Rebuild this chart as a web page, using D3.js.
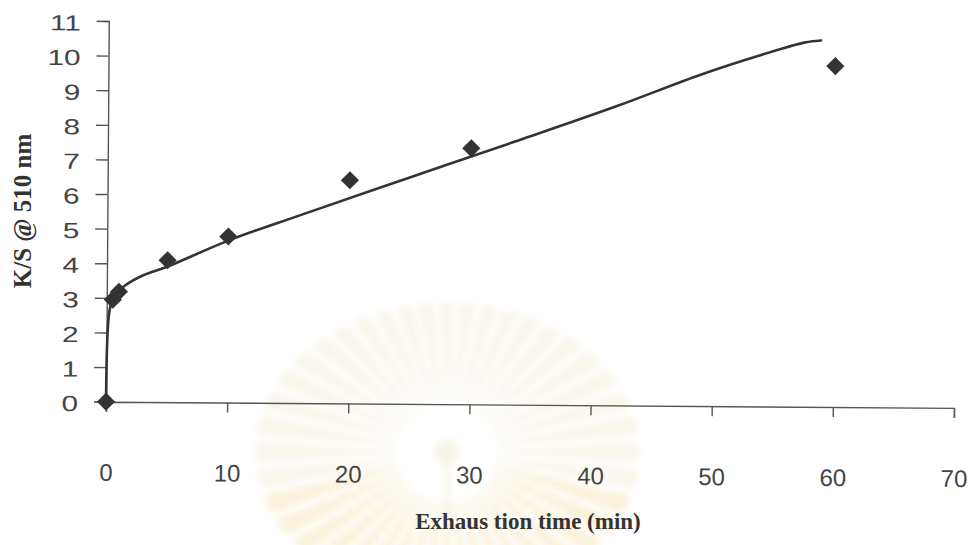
<!DOCTYPE html>
<html>
<head>
<meta charset="utf-8">
<script src="https://cdn.jsdelivr.net/npm/d3@7"></script>
<style>
  html, body { margin: 0; padding: 0; background: #fff; }
  svg { display: block; }
</style>
</head>
<body>
<svg id="chart" width="970" height="545"></svg>
<script>
// Measured K/S values at each exhaustion time
const exhaustionTime = [0, 0.5, 1, 5, 10, 20, 30, 60];
const ksValue = [0, 2.95, 3.18, 4.1, 4.8, 6.45, 7.4, 9.85];

// Fitted curve through the measurements
const fitTime = [0, 0.02, 0.06, 0.12, 0.2, 0.35, 0.6, 1.0, 1.5, 3, 5, 10, 16, 25, 34, 42, 49, 55, 57.5, 58.8];
const fitKS   = [0, 1.0, 1.7, 2.2, 2.55, 2.82, 3.03, 3.2, 3.36, 3.66, 3.92, 4.68, 5.44, 6.55, 7.65, 8.65, 9.59, 10.28, 10.53, 10.59];

// Axis ticks
const xTicks = [0, 10, 20, 30, 40, 50, 60, 70];
const yTicks = [0, 1, 2, 3, 4, 5, 6, 7, 8, 9, 10, 11];

const svg = d3.select("#chart");

const x = d3.scaleLinear().domain([0, 70]).range([106, 954]);
const y = d3.scaleLinear().domain([0, 11]).range([401.7, 21]);

// --- faint emblem in the background ---
const defs = svg.append("defs");
defs.append("filter").attr("id", "soft")
  .append("feGaussianBlur").attr("stdDeviation", 3);

const emblem = svg.append("g")
  .attr("transform", "translate(447,452)")
  .attr("filter", "url(#soft)");
const rayCount = 44;
const rays = d3.range(rayCount);
emblem.selectAll("path.ray").data(rays).join("path")
  .attr("class", "ray")
  .attr("d", i => {
    const a = (i / rayCount) * 2 * Math.PI;
    const w = (Math.PI / rayCount) * 0.75;
    const r0 = 50, rx = 190, ry = 148;
    const p = (ang, rr) => {
      const ex = Math.cos(ang), ey = Math.sin(ang);
      const k = rr === r0 ? r0 : 1 / Math.sqrt((ex * ex) / (rx * rx) + (ey * ey) / (ry * ry));
      return [ex * k, ey * k];
    };
    const a1 = p(a - w * 0.4, r0), a2 = p(a + w * 0.4, r0);
    const b1 = p(a - w, 1), b2 = p(a + w, 1), tip = p(a, 1);
    return `M${a1}L${b1}Q${tip[0] * 1.03},${tip[1] * 1.03} ${b2}L${a2}Z`;
  })
  .attr("fill", i => {
    const a = (i / rayCount) * 2 * Math.PI;
    return Math.sin(a) > 0.2 ? "#f1dea0" : "#f1e9cf";
  })
  .attr("opacity", 0.38);
emblem.append("circle").attr("cx", 0).attr("cy", 0).attr("r", 12)
  .attr("fill", "#eee4c8").attr("opacity", 0.45);
emblem.append("rect").attr("x", -3).attr("y", 10).attr("width", 6).attr("height", 70)
  .attr("fill", "#eee4c8").attr("opacity", 0.35);

// --- chart body (slightly tilted like the printed page) ---
const plot = svg.append("g").attr("transform", "rotate(0.42,106,402)");

const axisColor = "#555";
const tickColor = "#444";

// x axis
const xAxis = plot.append("g")
  .attr("transform", `translate(0,${y(0)})`)
  .call(d3.axisBottom(x).tickValues(xTicks).tickSize(10).tickPadding(52).tickSizeOuter(10));
xAxis.select(".domain").attr("stroke", axisColor).attr("stroke-width", 1.4);
xAxis.selectAll(".tick line").attr("stroke", axisColor).attr("stroke-width", 1.4);
xAxis.selectAll(".tick text")
  .attr("fill", tickColor)
  .style("font-family", "'Liberation Sans', Arial, sans-serif")
  .style("font-size", "24px");

// y axis
const yAxis = plot.append("g")
  .attr("transform", `translate(${x(0)},0)`)
  .call(d3.axisLeft(y).tickValues(yTicks).tickSize(12).tickPadding(16).tickSizeOuter(12));
yAxis.select(".domain").attr("stroke", axisColor).attr("stroke-width", 1.4);
yAxis.selectAll(".tick line").attr("stroke", axisColor).attr("stroke-width", 1.4);
yAxis.selectAll(".tick text")
  .attr("fill", tickColor)
  .attr("transform", "translate(-28,0) scale(1.35,1) translate(28,0)")
  .attr("dy", "0.42em")
  .style("font-family", "'Liberation Sans', Arial, sans-serif")
  .style("font-size", "22px");

// fitted curve
const fitPoints = fitTime.map((t, i) => [t, fitKS[i]]);
plot.append("path")
  .datum(fitPoints)
  .attr("fill", "none")
  .attr("stroke", "#333")
  .attr("stroke-width", 2.6)
  .attr("stroke-linecap", "round")
  .attr("stroke-linejoin", "round")
  .attr("d", d3.line().x(d => x(d[0])).y(d => y(d[1])).curve(d3.curveCatmullRom.alpha(0.5)));

// measured points as diamonds
const points = exhaustionTime.map((t, i) => ({ t, v: ksValue[i] }));
const diamond = d3.symbol().type(d3.symbolSquare).size(165);
plot.selectAll("path.pt").data(points).join("path")
  .attr("class", "pt")
  .attr("d", diamond)
  .attr("transform", d => `translate(${x(d.t)},${y(d.v)}) rotate(45)`)
  .attr("fill", "#333");

// axis titles
svg.append("text")
  .attr("x", 528).attr("y", 529)
  .attr("text-anchor", "middle")
  .attr("fill", "#333")
  .style("font-family", "'Liberation Serif', 'Times New Roman', serif")
  .style("font-weight", "bold")
  .style("font-size", "23px")
  .text("Exhaus tion time (min)");

svg.append("text")
  .attr("transform", "translate(31,211) rotate(-90)")
  .attr("text-anchor", "middle")
  .attr("fill", "#333")
  .style("font-family", "'Liberation Serif', 'Times New Roman', serif")
  .style("font-weight", "bold")
  .style("font-size", "25px")
  .text("K/S @ 510 nm");
</script>
</body>
</html>
